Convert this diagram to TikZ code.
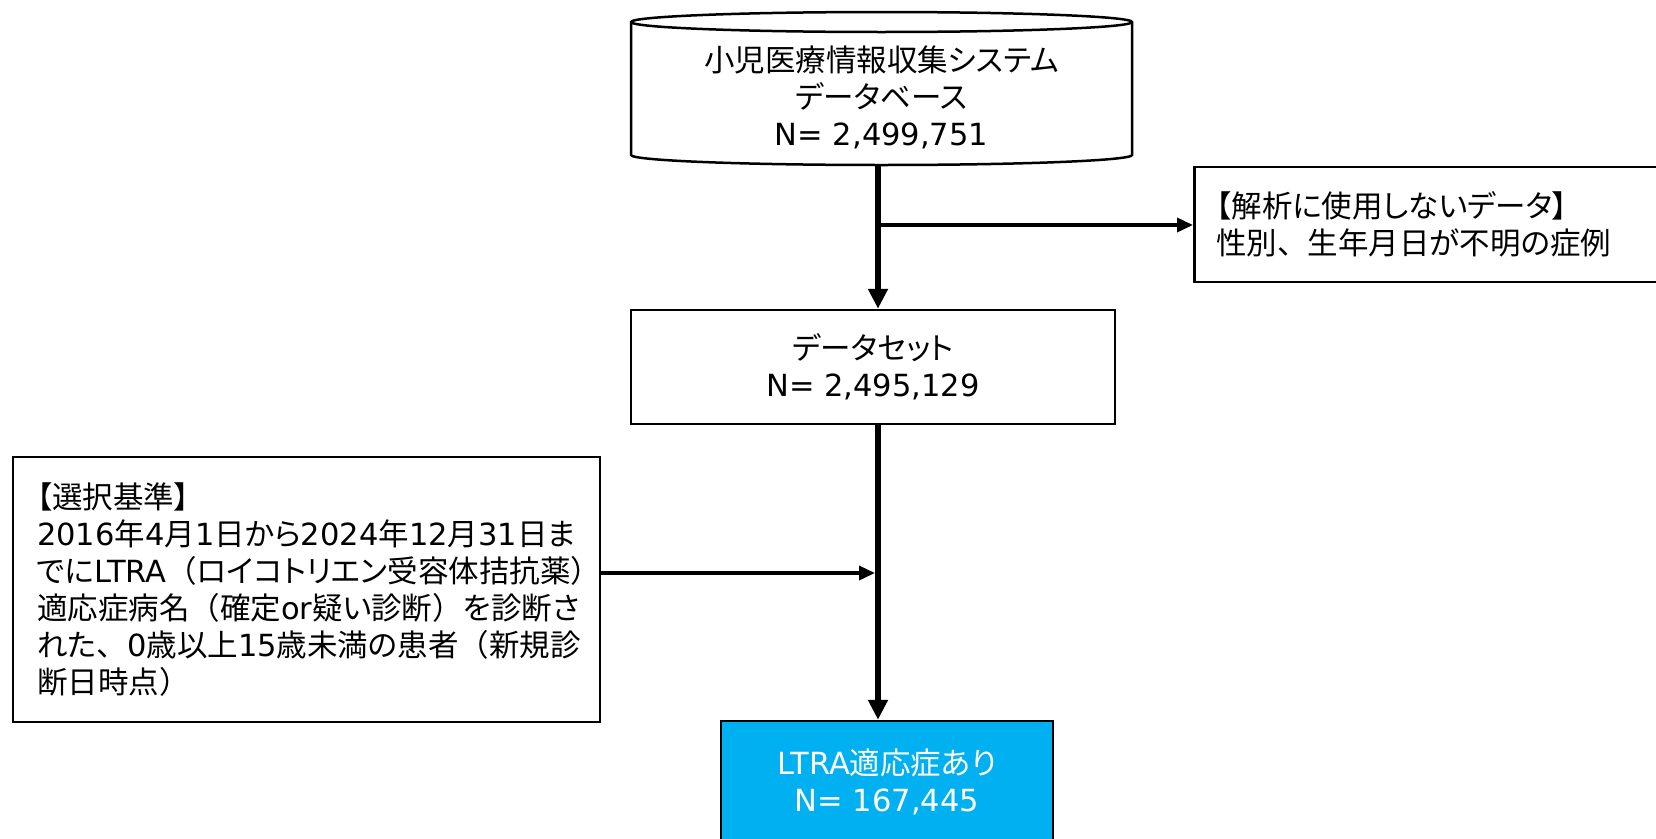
\documentclass[tikz,border=0pt]{standalone}
\usepackage{fontspec}
\usetikzlibrary{arrows.meta}
\setmainfont{DejaVu Sans}
\newfontfamily\latfont{DejaVu Sans}
\newfontfamily\cjkfont{Noto Sans CJK JP}[RawFeature={+palt}]
\newfontfamily\punfont{Noto Sans CJK JP}
\newXeTeXintercharclass\cjkcls
\newXeTeXintercharclass\puncls
\newcount\cc
\cc="3040 \loop\XeTeXcharclass\cc=\cjkcls \advance\cc by 1 \ifnum\cc<"3100 \repeat
\cc="4E00 \loop\XeTeXcharclass\cc=\cjkcls \advance\cc by 1 \ifnum\cc<"A000 \repeat
\cc="FF00 \loop\XeTeXcharclass\cc=\cjkcls \advance\cc by 1 \ifnum\cc<"FFF0 \repeat
\cc="3000 \loop\XeTeXcharclass\cc=\puncls \advance\cc by 1 \ifnum\cc<"3040 \repeat
\cc="FF01 \loop\XeTeXcharclass\cc=\puncls \advance\cc by 1 \ifnum\cc<"FF10 \repeat
\XeTeXcharclass"3010=\cjkcls
\XeTeXcharclass"3011=\cjkcls
\XeTeXinterchartoks 0 \cjkcls = {\cjkfont}
\XeTeXinterchartoks 4095 \cjkcls = {\cjkfont}
\XeTeXinterchartoks \puncls \cjkcls = {\cjkfont}
\XeTeXinterchartoks 0 \puncls = {\punfont}
\XeTeXinterchartoks 4095 \puncls = {\punfont}
\XeTeXinterchartoks \cjkcls \puncls = {\punfont}
\XeTeXinterchartoks \cjkcls 0 = {\latfont}
\XeTeXinterchartoks \puncls 0 = {\latfont}
\XeTeXinterchartoks \cjkcls 4095 = {\latfont}
\XeTeXinterchartoks \puncls 4095 = {\latfont}
\definecolor{resblue}{HTML}{00B0F0}
\begin{document}
\XeTeXinterchartokenstate=1
\begin{tikzpicture}[x=1pt,y=1pt,
  every node/.style={font=\fontsize{30.5}{37}\selectfont, inner sep=0pt, text=black},
  boxstyle/.style={draw=black, line width=2.5pt, fill=white},
  resbox/.style={draw=black, line width=2.5pt, fill=resblue, text=white},
  cyl/.style={draw=black, line width=2.5pt},
  trunk/.style={line width=5.5pt, -{Triangle[length=20pt,width=19pt]}},
  branch/.style={line width=3.5pt, -{Triangle[length=16pt,width=14pt]}}]
\fill[white] (0,0) rectangle (1656,-838);
\clip (0,0) rectangle (1656,-838);
% cylinder
\draw[cyl, fill=white] (631,-22) -- (631,-155)
  arc[start angle=180, end angle=360, x radius=250.5, y radius=10]
  -- (1132,-22)
  arc[start angle=0, end angle=180, x radius=250.5, y radius=10] -- cycle;
\draw[cyl] (631,-22) arc[start angle=180, end angle=360, x radius=250.5, y radius=10];
\node[align=center] (db) at (881.5,-97) {小児医療情報収集システム\\データベース\\N= 2,499,751};
% boxes
\node[boxstyle, anchor=west, minimum width=520pt, minimum height=115pt,
  text width=476pt, align=left] (ex) at (1193,-224.5)
  {【解析に使用しないデータ】\\性別、生年月日が不明の症例};
\node[boxstyle, minimum width=484pt, minimum height=114pt, align=center] (ds)
  at (873,-367) {データセット\\N= 2,495,129};
\node[boxstyle, minimum width=587pt, minimum height=265pt, text width=539pt,
  align=left] (crit) at (306.5,-589.5)
  {【選択基準】\\2016年4月1日から2024年12月31日ま\\でにLTRA（ロイコトリエン受容体拮抗薬）\\適応症病名（確定or疑い診断）を診断さ\\れた、0歳以上15歳未満の患者（新規診\\断日時点）};
\node[resbox, minimum width=332pt, minimum height=122pt, align=center] (res)
  at (887,-782) {LTRA適応症あり\\N= 167,445};
% connectors
\coordinate (t0) at (878,-165);
\coordinate (b1) at (878,-225);
\coordinate (m) at (875,-573);
\draw[trunk] (t0) -- (t0 |- ds.north);
\draw[branch] (b1) -- (b1 -| ex.west);
\draw[trunk] (ds.south -| t0) -- (t0 |- res.north);
\draw[branch] (m -| crit.east) -- (m);
\end{tikzpicture}
\end{document}
